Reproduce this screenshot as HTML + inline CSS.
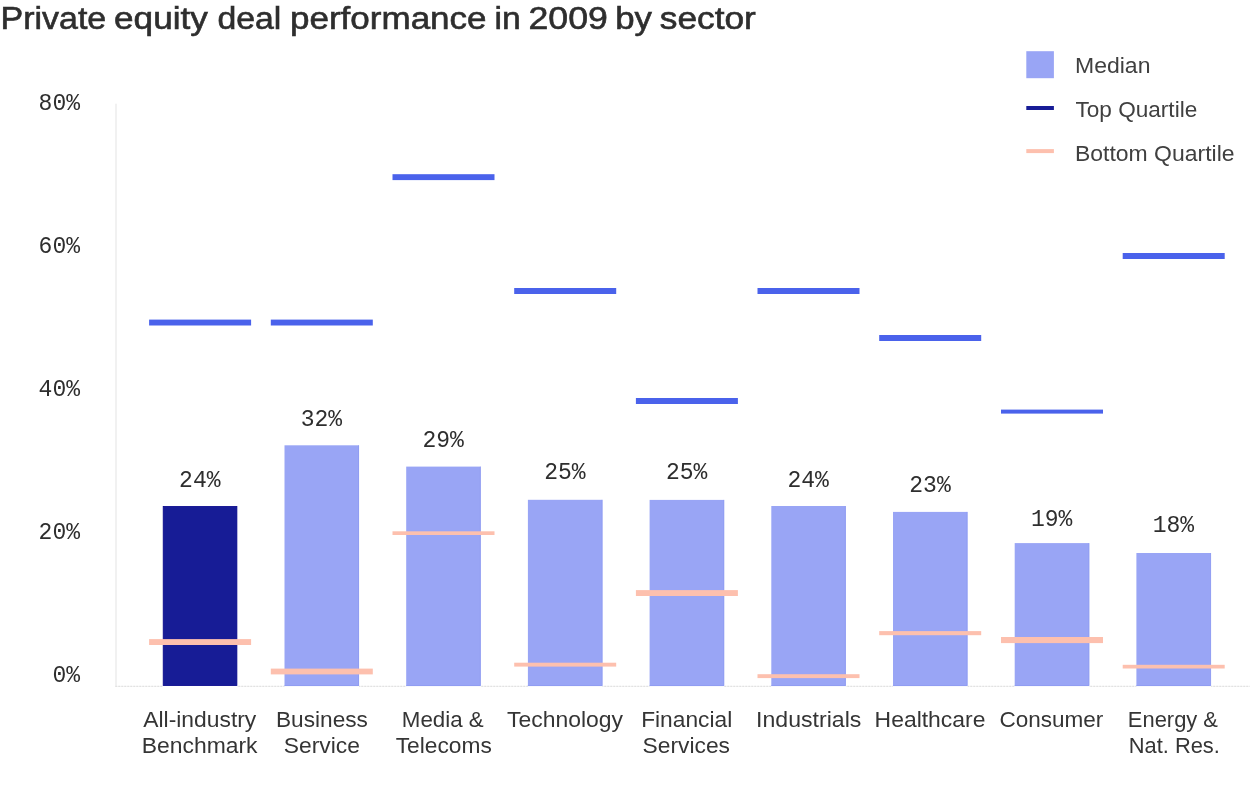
<!DOCTYPE html>
<html lang="en">
<head>
<meta charset="utf-8">
<title>Private equity deal performance in 2009 by sector</title>
<style>
html,body{margin:0;padding:0;background:#fff;}
body{width:1256px;height:796px;overflow:hidden;}
svg{display:block;}
.t{font-family:"Liberation Sans", Arial, Helvetica, sans-serif;fill:#353535;}
.tt{fill:inherit;}
.lg{fill:#404040;}
.m{font-family:"Liberation Mono", "DejaVu Sans Mono", monospace;fill:#2e2e2e;}
</style>
</head>
<body>
<svg width="1256" height="796" viewBox="0 0 1256 796" role="img" aria-label="Private equity deal performance in 2009 by sector">
<rect x="0" y="0" width="1256" height="796" fill="#ffffff"/>
<g id="title" style="fill:#2e2e2e;stroke:#2e2e2e;stroke-width:0.6">
<text class="t tt" font-size="31"><tspan x="0.54" y="29.1" textLength="105.71" lengthAdjust="spacingAndGlyphs">Private</tspan> <tspan x="114.06" y="29.1" textLength="93.79" lengthAdjust="spacingAndGlyphs">equity</tspan> <tspan x="217.50" y="29.1" textLength="63.88" lengthAdjust="spacingAndGlyphs">deal</tspan> <tspan x="290.00" y="29.1" textLength="196.57" lengthAdjust="spacingAndGlyphs">performance</tspan> <tspan x="494.57" y="29.1" textLength="26.22" lengthAdjust="spacingAndGlyphs">in</tspan> <tspan x="528.54" y="29.1" textLength="79.36" lengthAdjust="spacingAndGlyphs">2009</tspan> <tspan x="615.15" y="29.1" textLength="36.70" lengthAdjust="spacingAndGlyphs">by</tspan> <tspan x="659.74" y="29.1" textLength="96.14" lengthAdjust="spacingAndGlyphs">sector</tspan></text>
</g>
<g id="legend">
<rect x="1026.3" y="51.2" width="27.6" height="27" fill="#99a5f5"/>
<text class="t lg" x="1075.00" y="72.5" font-size="21.4" textLength="75.43" lengthAdjust="spacingAndGlyphs">Median</text>
<rect x="1026.3" y="106" width="27.6" height="4" fill="#171c96"/>
<text class="t lg" x="1075.50" y="117.4" font-size="21.4" textLength="121.75" lengthAdjust="spacingAndGlyphs">Top Quartile</text>
<rect x="1026.3" y="149.1" width="27.6" height="4" fill="#fdc0ae"/>
<text class="t lg" x="1075.00" y="160.8" font-size="21.4" textLength="159.50" lengthAdjust="spacingAndGlyphs">Bottom Quartile</text>
</g>
<g id="yaxis">
<text class="m" x="80" y="110.1" font-size="23" text-anchor="end">80%</text>
<text class="m" x="80" y="253.1" font-size="23" text-anchor="end">60%</text>
<text class="m" x="80" y="396.1" font-size="23" text-anchor="end">40%</text>
<text class="m" x="80" y="539.1" font-size="23" text-anchor="end">20%</text>
<text class="m" x="80" y="682.1" font-size="23" text-anchor="end">0%</text>
</g>
<rect x="115.3" y="103.7" width="1.4" height="583" fill="#ebebeb"/>
<line x1="115.3" y1="686.3" x2="1249.8" y2="686.3" stroke="#f3f3f3" stroke-width="1"/>
<line x1="115.3" y1="686.3" x2="1249.8" y2="686.3" stroke="#dedede" stroke-width="1" stroke-dasharray="1.8 1.2"/>
<g id="bars">
<rect x="162.8" y="685.5" width="74.5" height="1.6" fill="#ffffff"/>
<rect x="163.2" y="506.4" width="73.7" height="179.2" fill="#171c96" stroke="#07078c" stroke-width="0.8"/>
<rect x="284.5" y="685.5" width="74.5" height="1.6" fill="#ffffff"/>
<rect x="284.5" y="445.3" width="74.5" height="240.7" fill="#99a5f5"/>
<path d="M358.6 445.3V685.6H284.5" fill="none" stroke="#8c99f0" stroke-width="0.7"/>
<rect x="406.2" y="685.5" width="74.5" height="1.6" fill="#ffffff"/>
<rect x="406.2" y="466.6" width="74.5" height="219.4" fill="#99a5f5"/>
<path d="M480.4 466.6V685.6H406.2" fill="none" stroke="#8c99f0" stroke-width="0.7"/>
<rect x="527.9" y="685.5" width="74.5" height="1.6" fill="#ffffff"/>
<rect x="527.9" y="499.8" width="74.5" height="186.2" fill="#99a5f5"/>
<path d="M602.1 499.8V685.6H527.9" fill="none" stroke="#8c99f0" stroke-width="0.7"/>
<rect x="649.6" y="685.5" width="74.5" height="1.6" fill="#ffffff"/>
<rect x="649.6" y="499.9" width="74.5" height="186.1" fill="#99a5f5"/>
<path d="M723.8 499.9V685.6H649.6" fill="none" stroke="#8c99f0" stroke-width="0.7"/>
<rect x="771.3" y="685.5" width="74.5" height="1.6" fill="#ffffff"/>
<rect x="771.3" y="506.0" width="74.5" height="180.0" fill="#99a5f5"/>
<path d="M845.4 506.0V685.6H771.3" fill="none" stroke="#8c99f0" stroke-width="0.7"/>
<rect x="893.0" y="685.5" width="74.5" height="1.6" fill="#ffffff"/>
<rect x="893.0" y="511.9" width="74.5" height="174.1" fill="#99a5f5"/>
<path d="M967.1 511.9V685.6H893.0" fill="none" stroke="#8c99f0" stroke-width="0.7"/>
<rect x="1014.7" y="685.5" width="74.5" height="1.6" fill="#ffffff"/>
<rect x="1014.7" y="543.1" width="74.5" height="142.9" fill="#99a5f5"/>
<path d="M1088.9 543.1V685.6H1014.7" fill="none" stroke="#8c99f0" stroke-width="0.7"/>
<rect x="1136.4" y="685.5" width="74.5" height="1.6" fill="#ffffff"/>
<rect x="1136.4" y="553.0" width="74.5" height="133.0" fill="#99a5f5"/>
<path d="M1210.6 553.0V685.6H1136.4" fill="none" stroke="#8c99f0" stroke-width="0.7"/>
</g>
<g id="topq">
<rect x="149.1" y="319.6" width="102.0" height="5.9" fill="#4a62eb"/>
<rect x="270.8" y="319.6" width="102.0" height="5.9" fill="#4a62eb"/>
<rect x="392.5" y="174.2" width="102.0" height="5.9" fill="#4a62eb"/>
<rect x="514.2" y="288.0" width="102.0" height="6.0" fill="#4a62eb"/>
<rect x="635.9" y="398.0" width="102.0" height="6.0" fill="#4a62eb"/>
<rect x="757.5" y="288.0" width="102.0" height="6.0" fill="#4a62eb"/>
<rect x="879.2" y="335.0" width="102.0" height="6.0" fill="#4a62eb"/>
<rect x="1001.0" y="409.6" width="102.0" height="4.0" fill="#4a62eb"/>
<rect x="1122.7" y="253.0" width="102.0" height="6.0" fill="#4a62eb"/>
</g>
<g id="botq">
<rect x="149.1" y="639.1" width="102.0" height="5.9" fill="#fdc0ae"/>
<rect x="270.8" y="668.6" width="102.0" height="5.8" fill="#fdc0ae"/>
<rect x="392.5" y="531.3" width="102.0" height="3.7" fill="#fdc0ae"/>
<rect x="514.2" y="662.7" width="102.0" height="3.9" fill="#fdc0ae"/>
<rect x="635.9" y="590.1" width="102.0" height="5.9" fill="#fdc0ae"/>
<rect x="757.5" y="674.2" width="102.0" height="3.9" fill="#fdc0ae"/>
<rect x="879.2" y="631.1" width="102.0" height="4.1" fill="#fdc0ae"/>
<rect x="1001.0" y="637.0" width="102.0" height="6.1" fill="#fdc0ae"/>
<rect x="1122.7" y="664.8" width="102.0" height="3.7" fill="#fdc0ae"/>
</g>
<g id="vals">
<text class="m" x="199.8" y="486.5" font-size="23" text-anchor="middle">24%</text>
<text class="m" x="321.4" y="425.5" font-size="23" text-anchor="middle">32%</text>
<text class="m" x="443.2" y="447.4" font-size="23" text-anchor="middle">29%</text>
<text class="m" x="564.9" y="478.9" font-size="23" text-anchor="middle">25%</text>
<text class="m" x="686.6" y="478.7" font-size="23" text-anchor="middle">25%</text>
<text class="m" x="808.2" y="486.6" font-size="23" text-anchor="middle">24%</text>
<text class="m" x="930.0" y="492.2" font-size="23" text-anchor="middle">23%</text>
<text class="m" x="1051.7" y="526.1" font-size="23" text-anchor="middle">19%</text>
<text class="m" x="1173.4" y="531.7" font-size="23" text-anchor="middle">18%</text>
</g>
<g id="xlabels">
<text class="t" font-size="21.4"><tspan x="143.24" y="727.1" textLength="113.05" lengthAdjust="spacingAndGlyphs">All-industry</tspan> <tspan x="141.72" y="752.8" textLength="115.78" lengthAdjust="spacingAndGlyphs">Benchmark</tspan></text>
<text class="t" font-size="21.4"><tspan x="276.00" y="727.1" textLength="91.88" lengthAdjust="spacingAndGlyphs">Business</tspan> <tspan x="283.77" y="752.8" textLength="76.21" lengthAdjust="spacingAndGlyphs">Service</tspan></text>
<text class="t" font-size="21.4"><tspan x="401.80" y="727.1" textLength="81.94" lengthAdjust="spacingAndGlyphs">Media &amp;</tspan> <tspan x="395.70" y="752.8" textLength="96.10" lengthAdjust="spacingAndGlyphs">Telecoms</tspan></text>
<text class="t" font-size="21.4"><tspan x="507.00" y="727.1" textLength="115.93" lengthAdjust="spacingAndGlyphs">Technology</tspan></text>
<text class="t" font-size="21.4"><tspan x="641.18" y="727.1" textLength="91.06" lengthAdjust="spacingAndGlyphs">Financial</tspan> <tspan x="642.51" y="752.8" textLength="87.49" lengthAdjust="spacingAndGlyphs">Services</tspan></text>
<text class="t" font-size="21.4"><tspan x="756.11" y="727.1" textLength="105.22" lengthAdjust="spacingAndGlyphs">Industrials</tspan></text>
<text class="t" font-size="21.4"><tspan x="874.62" y="727.1" textLength="110.82" lengthAdjust="spacingAndGlyphs">Healthcare</tspan></text>
<text class="t" font-size="21.4"><tspan x="999.50" y="727.1" textLength="103.84" lengthAdjust="spacingAndGlyphs">Consumer</tspan></text>
<text class="t" font-size="21.4"><tspan x="1127.86" y="727.1" textLength="90.14" lengthAdjust="spacingAndGlyphs">Energy &amp;</tspan> <tspan x="1128.74" y="752.8" textLength="91.12" lengthAdjust="spacingAndGlyphs">Nat. Res.</tspan></text>
</g>
</svg>
</body>
</html>
